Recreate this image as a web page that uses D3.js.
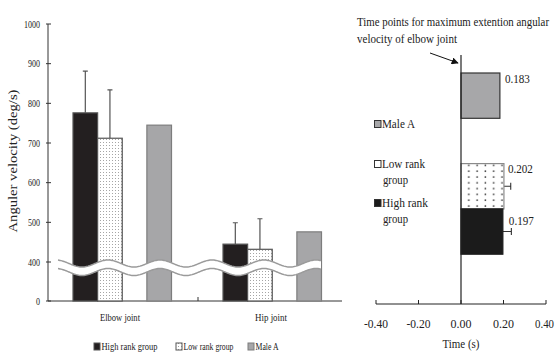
<!DOCTYPE html>
<html>
<head>
<meta charset="utf-8">
<script src="https://cdn.jsdelivr.net/npm/d3@7"></script>
<style>
  body { margin: 0; background: #fff; }
  svg { display: block; }
  text { font-family: "Liberation Serif", "Times New Roman", serif; fill: #222; }
</style>
</head>
<body>
<svg width="555" height="353"></svg>
<script>
// left chart: peak angular velocity
var joints = ["Elbow joint", "Hip joint"];
var groups = ["High rank group", "Low rank group", "_gap", "Male A"];
var highMean = [776, 445], highSD = [105, 54];
var lowMean = [712, 432], lowSD = [122, 77];
var maleA = [745, 476];
var yTicks = [0, 400, 500, 600, 700, 800, 900, 1000];

// right chart: time of max extension velocity
var timeGroups = ["Male A", "_g1", "Low rank group", "High rank group", "_g2"];
var timeMean = [0.183, null, 0.202, 0.197, null];
var timeSD = [null, null, 0.032, 0.040, null];
var timeLabels = ["0.183", "", "0.202", "0.197", ""];
var xTicks = [-0.4, -0.2, 0, 0.2, 0.4];

var svg = d3.select("svg");

// patterns
var defs = svg.append("defs");
var fine = defs.append("pattern").attr("id", "fine")
  .attr("width", 3).attr("height", 3).attr("patternUnits", "userSpaceOnUse");
fine.append("rect").attr("width", 3).attr("height", 3).attr("fill", "#fff");
fine.append("rect").attr("x", 1).attr("y", 1).attr("width", 1).attr("height", 1).attr("fill", "#a5a5a5");
var dots = defs.append("pattern").attr("id", "dots")
  .attr("width", 8.3).attr("height", 5.8).attr("patternUnits", "userSpaceOnUse");
dots.append("rect").attr("width", 8.3).attr("height", 5.8).attr("fill", "#fff");
dots.append("circle").attr("cx", 4).attr("cy", 3).attr("r", 0.9).attr("fill", "#333");

// text helper, squeezed to the widths in the picture
function txt(g, x, y, s, size, len, anchor) {
  var t = g.append("text").attr("x", x).attr("y", y)
    .attr("font-size", size).attr("text-anchor", anchor || "start").text(s);
  if (len) t.attr("textLength", len).attr("lengthAdjust", "spacingAndGlyphs");
  return t;
}

/* ---------- left chart ---------- */
var L = svg.append("g");
var y = d3.scaleLinear().domain([0, 400, 1000]).range([301, 262, 24]);
var x0 = d3.scaleBand().domain(joints).range([48, 348]);
var x1 = d3.scaleBand().domain(groups).range([25, 123.5]);

// axes
L.append("line").attr("x1", 48).attr("x2", 48).attr("y1", y(1000)).attr("y2", y(0))
  .attr("stroke", "#333").attr("stroke-width", 1);
L.append("line").attr("x1", 48).attr("x2", 342).attr("y1", y(0)).attr("y2", y(0))
  .attr("stroke", "#333").attr("stroke-width", 1);
L.selectAll(".yt").data(yTicks).enter().append("line")
  .attr("x1", 46).attr("x2", 51).attr("y1", function(d) { return y(d); }).attr("y2", function(d) { return y(d); })
  .attr("stroke", "#333");
L.append("line").attr("x1", x0("Hip joint")).attr("x2", x0("Hip joint"))
  .attr("y1", y(0) - 4).attr("y2", y(0)).attr("stroke", "#333");
yTicks.forEach(function(d) {
  txt(L, 40, y(d) + 3.5, String(d), 10, String(d).length * 4, "end");
});
txt(L, 0, 0, "Anguler velocity (deg/s)", 12, 143, "middle")
  .attr("transform", "translate(17,161) rotate(-90)");

// bars
var rows = joints.map(function(j, i) {
  return [
    { j: j, g: "High rank group", v: highMean[i], sd: highSD[i] },
    { j: j, g: "Low rank group", v: lowMean[i], sd: lowSD[i] },
    { j: j, g: "Male A", v: maleA[i], sd: null }
  ];
});
var flat = [].concat.apply([], rows);
var fillOf = { "High rank group": "#231f20", "Low rank group": "url(#fine)", "Male A": "#a6a6a8" };
var strokeOf = { "High rank group": "#555", "Low rank group": "#555", "Male A": "#7d7d7d" };

L.selectAll(".err").data(flat.filter(function(d) { return d.sd; })).enter().append("path")
  .attr("d", function(d) {
    var cx = x0(d.j) + x1(d.g) + x1.bandwidth() / 2, top = y(d.v + d.sd);
    return "M" + cx + "," + y(d.v) + "V" + top + "M" + (cx - 2.5) + "," + top + "H" + (cx + 2.5);
  })
  .attr("stroke", "#555").attr("stroke-width", 1.2).attr("fill", "none");

L.selectAll(".bar").data(flat).enter().append("rect")
  .attr("x", function(d) { return x0(d.j) + x1(d.g); })
  .attr("width", x1.bandwidth())
  .attr("y", function(d) { return y(d.v); })
  .attr("height", function(d) { return y(0) - y(d.v); })
  .attr("fill", function(d) { return fillOf[d.g]; })
  .attr("stroke", function(d) { return strokeOf[d.g]; })
  .attr("stroke-width", 1.2);

// axis break
function wave(off) {
  var pts = d3.range(58, 321.5, 1).map(function(px) {
    return [px, y(400) + off - 3.5 * Math.cos(2 * Math.PI * (px - 56) / 52)];
  });
  return pts;
}
var up = wave(1.5), lo = wave(10);
L.append("path")
  .attr("d", d3.line()(up) + "L" + d3.line()(lo.slice().reverse()).slice(1) + "Z")
  .attr("fill", "#fff");
[up, lo].forEach(function(p) {
  L.append("path").attr("d", d3.line()(p)).attr("fill", "none")
    .attr("stroke", "#9a9a9a").attr("stroke-width", 1.5);
});

// category labels
txt(L, x0("Elbow joint") + x0.bandwidth() / 2 - 3, 321, "Elbow joint", 11, 40, "middle");
txt(L, x0("Hip joint") + x0.bandwidth() / 2 - 2, 321, "Hip joint", 11, 32, "middle");

// legend
var leg = [
  { g: "High rank group", x: 94, len: 56 },
  { g: "Low rank group", x: 176, len: 50 },
  { g: "Male A", x: 248, len: 23 }
];
leg.forEach(function(d) {
  L.append("rect").attr("x", d.x).attr("y", 343).attr("width", 6).attr("height", 7)
    .attr("fill", fillOf[d.g]).attr("stroke", strokeOf[d.g]).attr("stroke-width", 1);
  txt(L, d.x + 7.5, 350, d.g, 10, d.len);
});

/* ---------- right chart ---------- */
var R = svg.append("g");
var tx = d3.scaleLinear().domain([-0.4, 0.4]).range([376, 546]);
var ty = d3.scaleBand().domain(timeGroups).range([73, 299.5]);
var baseY = 304;

R.append("line").attr("x1", tx(-0.4)).attr("x2", tx(0.4)).attr("y1", baseY).attr("y2", baseY)
  .attr("stroke", "#222");
R.selectAll(".xt").data(xTicks).enter().append("line")
  .attr("x1", function(d) { return tx(d); }).attr("x2", function(d) { return tx(d); })
  .attr("y1", baseY - 4).attr("y2", baseY).attr("stroke", "#222");
xTicks.forEach(function(d) {
  var s = d3.format(".2f")(d).replace("−", "-");
  if (d === 0.4) txt(R, 554, 328, s, 13, 19, "end");
  else txt(R, tx(d), 328, s, 13, s.length === 5 ? 24 : 21, "middle");
});
txt(R, tx(0), 348, "Time (s)", 13, 37, "middle");

var tdata = timeGroups.map(function(g, i) {
  return { g: g, v: timeMean[i], sd: timeSD[i], lab: timeLabels[i] };
}).filter(function(d) { return d.v !== null; });
var tFill = { "Male A": "#a7a7a9", "Low rank group": "url(#dots)", "High rank group": "#1b1b1b" };
var tStroke = { "Male A": "#333", "Low rank group": "#8a8a8a", "High rank group": "#1b1b1b" };

R.selectAll(".terr").data(tdata.filter(function(d) { return d.sd; })).enter().append("path")
  .attr("d", function(d) {
    var cy = ty(d.g) + ty.bandwidth() / 2, end = tx(d.v + d.sd);
    return "M" + tx(d.v) + "," + cy + "H" + end + "M" + end + "," + (cy - 3.5) + "V" + (cy + 3.5);
  })
  .attr("stroke", "#333").attr("stroke-width", 1.1).attr("fill", "none");

R.selectAll(".tbar").data(tdata).enter().append("rect")
  .attr("x", tx(0))
  .attr("y", function(d) { return ty(d.g); })
  .attr("width", function(d) { return tx(d.v) - tx(0); })
  .attr("height", ty.bandwidth())
  .attr("fill", function(d) { return tFill[d.g]; })
  .attr("stroke", function(d) { return tStroke[d.g]; })
  .attr("stroke-width", 1.2);

tdata.forEach(function(d, i) {
  var off = [5, 4, 6][i];
  var by = [10, 9, 16][i];
  txt(R, tx(d.v) + off, ty(d.g) + by, d.lab, 13, 25);
});

R.append("line").attr("x1", tx(0)).attr("x2", tx(0)).attr("y1", 55).attr("y2", baseY)
  .attr("stroke", "#222").attr("stroke-width", 1.2);

// legend on the left of the bars
var tleg = [
  { g: "Male A", y: 128, l1: "Male A", l2: null, w1: 33 },
  { g: "Low rank group", y: 168, l1: "Low rank", l2: "group", w1: 43 },
  { g: "High rank group", y: 207, l1: "High rank", l2: "group", w1: 46 }
];
tleg.forEach(function(d) {
  R.append("rect").attr("x", 374.5).attr("y", d.y - 7.5).attr("width", 6.5).attr("height", 7)
    .attr("fill", d.g === "Low rank group" ? "#fff" : tFill[d.g]).attr("stroke", "#333").attr("stroke-width", 1);
  txt(R, 382, d.y, d.l1, 13, d.w1);
  if (d.l2) txt(R, 383, d.y + 16, d.l2, 13, 25);
});

// title and arrow
txt(R, 357, 26, "Time points for maximum extention angular", 12.5, 192);
txt(R, 357, 43, "velocity of elbow joint", 12.5, 100);
defs.append("marker").attr("id", "arr").attr("viewBox", "0 0 10 10")
  .attr("refX", 9).attr("refY", 5).attr("markerWidth", 7).attr("markerHeight", 7)
  .attr("orient", "auto")
  .append("path").attr("d", "M0,0L10,5L0,10Z").attr("fill", "#111");
R.append("line").attr("x1", 430).attr("y1", 53).attr("x2", 458).attr("y2", 63)
  .attr("stroke", "#111").attr("stroke-width", 1).attr("marker-end", "url(#arr)");
</script>
</body>
</html>
